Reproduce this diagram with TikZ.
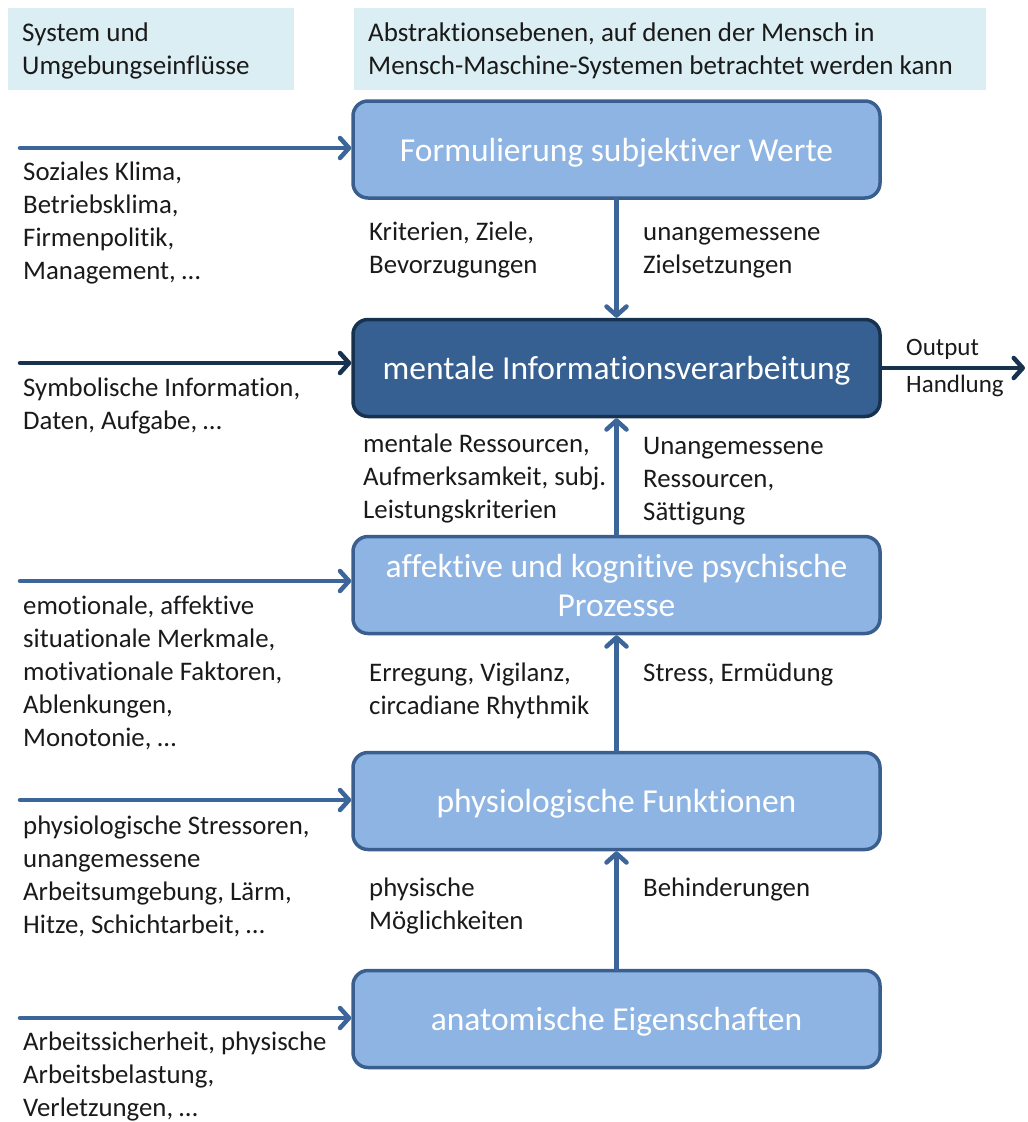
\documentclass[tikz,border=0pt]{standalone}
\usepackage{fontspec}
\setmainfont{Carlito}[Ligatures=NoCommon]
\usetikzlibrary{arrows.meta}
\definecolor{boxfill}{HTML}{8EB4E3}
\definecolor{boxline}{HTML}{3A5F8F}
\definecolor{darkfill}{HTML}{376092}
\definecolor{darkline}{HTML}{17324F}
\definecolor{arrowcol}{HTML}{3C6599}
\definecolor{headfill}{HTML}{DBEEF4}
\definecolor{txt}{HTML}{1A1A1A}
\begin{document}
\begin{tikzpicture}[x=1pt,y=-1pt,
  level/.style={draw=boxline, fill=boxfill, line width=3.5pt, rounded corners=15pt,
    minimum width=527pt, minimum height=97pt, text=white, align=center, inner sep=0pt,
    font=\fontsize{33.5}{39}\selectfont},
  oneline/.style={text depth=0pt},
  darklevel/.style={level, draw=darkline, fill=darkfill},
  head/.style={fill=headfill, draw=none, anchor=north west, minimum height=82pt, inner sep=0pt},
  lbl/.style={anchor=north west, inner sep=0pt, align=left, text=txt,
    font=\fontsize{26.8}{33}\selectfont},
  hlbl/.style={lbl, font=\fontsize{27}{33}\selectfont},
  flow/.style={draw=arrowcol, line width=4.5pt, line cap=round,
    -{Straight Barb[length=9pt,width=20pt,line cap=round,line join=round]}},
  darkflow/.style={flow, draw=darkline}
]
\useasboundingbox (0,0) rectangle (1028,1122);

% header boxes
\node[head, minimum width=286pt] (h1) at (8,8) {};
\node[head, minimum width=632pt] (h2) at (354,8) {};
\node[hlbl] (h1t) at (22,18) {\strut System und\\Umgebungseinflüsse};
\node[hlbl] (h2t) at (368,18) {\strut Abstraktionsebenen, auf denen der Mensch in\\Mensch-Maschine-Systemen betrachtet werden kann};

% level boxes
\node[level, oneline] (b1) at (616.5,149.5) {Formulierung subjektiver Werte};
\node[darklevel, oneline] (b2) at (616.5,368) {mentale Informationsverarbeitung};
\node[level] (b3) at (616.5,585) {affektive und kognitive psychische\\Prozesse};
\node[level, oneline] (b4) at (616.5,801) {physiologische Funktionen};
\node[level, oneline] (b5) at (616.5,1019) {anatomische Eigenschaften};

% input coordinates
\coordinate (i1) at (20,148);
\coordinate (i2) at (20,363);
\coordinate (i3) at (20,581);
\coordinate (i4) at (20,800);
\coordinate (i5) at (20,1018);
\coordinate (out) at (1025,368);

% input arrows
\draw[flow] (i1) -- (i1 -| b1.west);
\draw[darkflow] (i2) -- (i2 -| b2.west);
\draw[flow] (i3) -- (i3 -| b3.west);
\draw[flow] (i4) -- (i4 -| b4.west);
\draw[flow] (i5) -- (i5 -| b5.west);

% vertical arrows
\draw[flow] (b1.south) -- (b2.north);
\draw[flow] (b3.north) -- (b2.south);
\draw[flow] (b4.north) -- (b3.south);
\draw[flow] (b5.north) -- (b4.south);

% output arrow
\draw[darkflow] (b2.east) -- (out);

% left texts
\node[lbl] (t1) at (23,157) {\strut Soziales Klima,\\Betriebsklima,\\Firmenpolitik,\\Management, …};
\node[lbl] (t2) at (23,373) {\strut Symbolische Information,\\Daten, Aufgabe, …};
\node[lbl] (t3) at (23,591) {\strut emotionale, affektive\\situationale Merkmale,\\motivationale Faktoren,\\Ablenkungen,\\Monotonie, …};
\node[lbl] (t4) at (23,811) {\strut physiologische Stressoren,\\unangemessene\\Arbeitsumgebung, Lärm,\\Hitze, Schichtarbeit, …};
\node[lbl] (t5) at (23,1027) {\strut Arbeitssicherheit, physische\\Arbeitsbelastung,\\Verletzungen, …};

% labels along vertical arrows
\node[lbl] (l1) at (369,217) {\strut Kriterien, Ziele,\\Bevorzugungen};
\node[lbl] (r1) at (643,217) {\strut unangemessene\\Zielsetzungen};
\node[lbl] (l2) at (363,429) {\strut mentale Ressourcen,\\Aufmerksamkeit, subj.\\Leistungskriterien};
\node[lbl] (r2) at (643,431) {\strut Unangemessene\\Ressourcen,\\Sättigung};
\node[lbl] (l3) at (369,658) {\strut Erregung, Vigilanz,\\circadiane Rhythmik};
\node[lbl] (r3) at (643,658) {\strut Stress, Ermüdung};
\node[lbl] (l4) at (369,873) {\strut physische\\Möglichkeiten};
\node[lbl] (r4) at (643,873) {\strut Behinderungen};

% output labels
\node[lbl, font=\fontsize{25}{30}\selectfont] (o1) at (906,334) {\strut Output};
\node[lbl, font=\fontsize{25}{30}\selectfont] (o2) at (906,371) {\strut Handlung};
\end{tikzpicture}
\end{document}
